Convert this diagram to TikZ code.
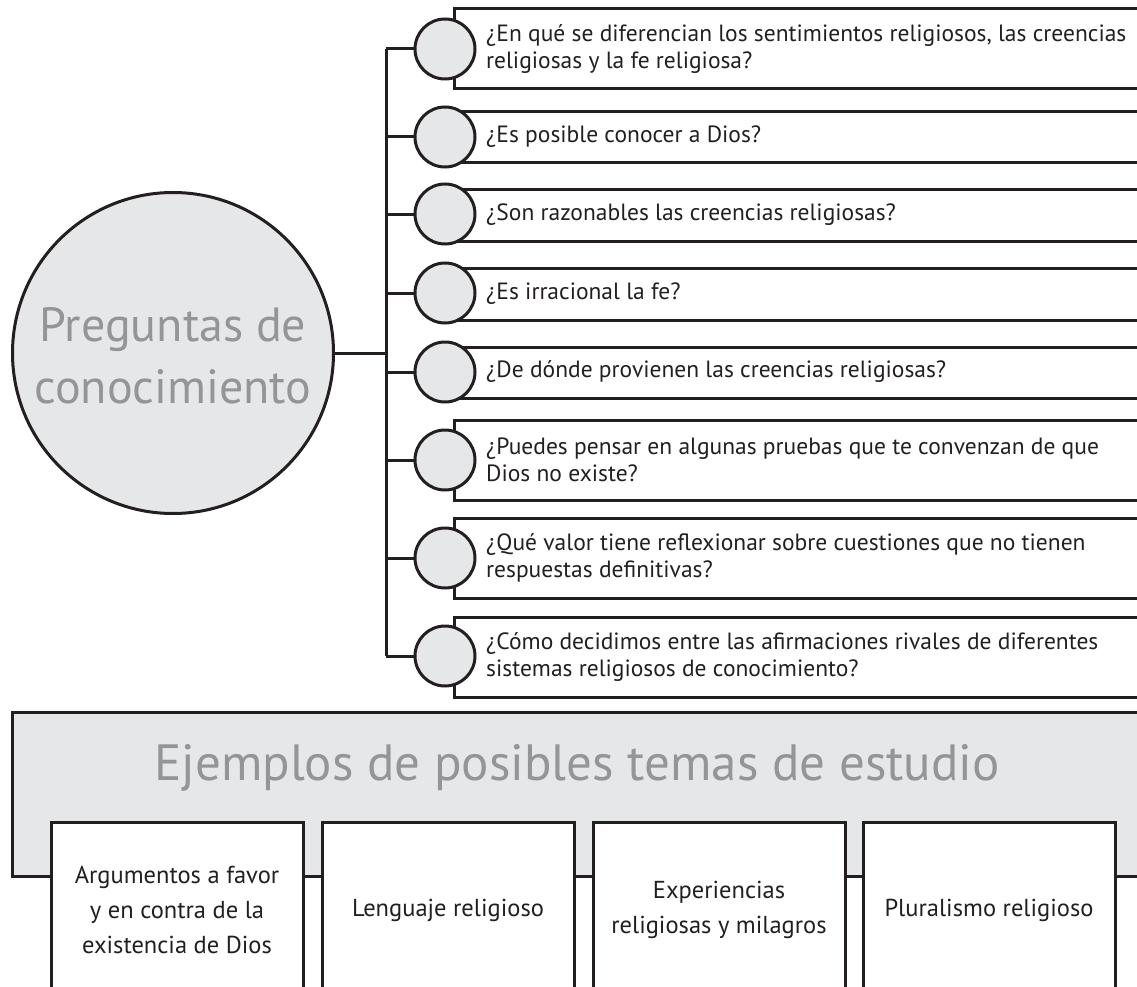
\documentclass[tikz,border=0pt]{standalone}
\usepackage{fontspec}
\setmainfont{PT Sans}
\definecolor{fillgray}{RGB}{230,231,232}
\definecolor{txtgray}{RGB}{147,149,152}
\definecolor{ink}{RGB}{35,31,32}
\tikzset{
  ln/.style={line width=3pt, draw=ink},
  smallc/.style={circle, draw=ink, fill=fillgray, line width=3pt, minimum size=60pt, inner sep=0pt},
  bigc/.style={circle, draw=ink, fill=fillgray, line width=3pt, minimum size=321pt, inner sep=0pt},
  qtext/.style={anchor=west, inner sep=0pt, align=left, text=ink, font=\fontsize{23.5}{27}\selectfont},
  btext/.style={inner sep=0pt, align=center, text=ink, font=\fontsize{24.5}{35}\selectfont},
  qframe/.style={line width=3pt, draw=ink, fill=white},
}
\begin{document}
\begin{tikzpicture}[x=1pt,y=-1pt]
\clip (0,0) rectangle (1137,987);
\useasboundingbox (0,0) rectangle (1137,987);
% question frames
\foreach \t/\b in {9/89,112/163,190/241,268/320,347/398,420/500,518/598,617/697}{
  \filldraw[qframe] (1145,\t) -- (454,\t) -- (454,\b) -- (1145,\b);
}
% big circle
\node[bigc] (pc) at (173,353) {};
\node[text=txtgray, align=center, inner sep=0pt, font=\fontsize{48}{62}\selectfont] (pct) at (173,356) {Preguntas de\\conocimiento};
\coordinate (tj) at (386,353);
% small circles
\node[smallc] (q1) at (445,49) {};
\node[smallc] (q2) at (445,137) {};
\node[smallc] (q3) at (445,214) {};
\node[smallc] (q4) at (445,293) {};
\node[smallc] (q5) at (445,372) {};
\node[smallc] (q6) at (445,460) {};
\node[smallc] (q7) at (445,558) {};
\node[smallc] (q8) at (445,656) {};
\draw[ln] (pc.east) -- (tj);
\draw[ln] (tj |- q1) -- (tj |- q8);
\foreach \i in {1,...,8}{ \draw[ln] (tj |- q\i) -- (q\i.west); }
% question texts
\node[qtext] (t1) at (486,49) {¿En qué se diferencian los sentimientos religiosos, las creencias\\religiosas y la fe religiosa?};
\node[qtext] (t2) at (486,137) {¿Es posible conocer a Dios?};
\node[qtext] (t3) at (486,215) {¿Son razonables las creencias religiosas?};
\node[qtext] (t4) at (486,294) {¿Es irracional la fe?};
\node[qtext] (t5) at (486,372) {¿De dónde provienen las creencias religiosas?};
\node[qtext] (t6) at (486,460) {¿Puedes pensar en algunas pruebas que te convenzan de que\\Dios no existe?};
\node[qtext] (t7) at (486,558) {¿Qué valor tiene reflexionar sobre cuestiones que no tienen\\respuestas definitivas?};
\node[qtext] (t8) at (486,657) {¿Cómo decidimos entre las afirmaciones rivales de diferentes\\sistemas religiosos de conocimiento?};
% bottom panel
\fill[fillgray] (12,712) rectangle (1145,876);
\draw[ln] (1145,712) -- (12,712) -- (12,876) -- (1145,876);
\node[text=txtgray, inner sep=0pt, font=\fontsize{51}{60}\selectfont] (title) at (577,768) {Ejemplos de posibles temas de estudio};
\foreach \l/\r in {51/303,322/574,593/845,863/1115}{
  \filldraw[qframe] (\l,1000) -- (\l,822) -- (\r,822) -- (\r,1000);
}
\node[btext] (b1) at (177,910) {Argumentos a favor\\y en contra de la\\existencia de Dios};
\node[btext] (b2) at (448,910) {Lenguaje religioso};
\node[btext] (b3) at (719,910) {Experiencias\\religiosas y milagros};
\node[btext] (b4) at (989,910) {Pluralismo religioso};
\end{tikzpicture}
\end{document}
